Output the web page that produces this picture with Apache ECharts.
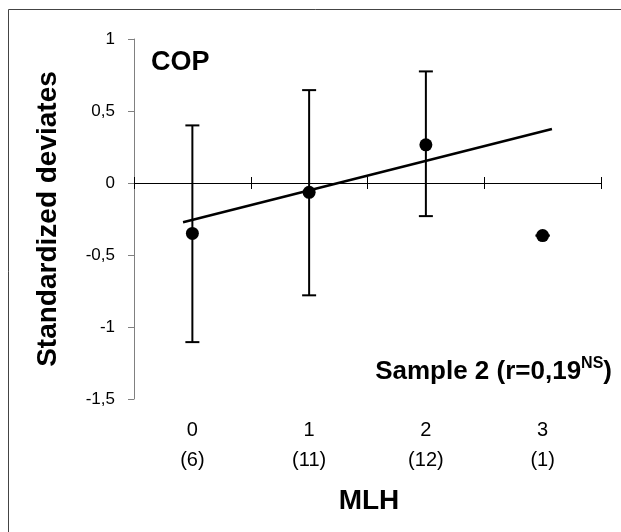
<!DOCTYPE html>
<html>
<head>
<meta charset="utf-8">
<script src="https://cdn.jsdelivr.net/npm/echarts@6/dist/echarts.min.js"></script>
<style>
  html, body { margin: 0; padding: 0; background: #fff; }
  #chart { width: 621px; height: 532px; }
</style>
</head>
<body>
<div id="chart"></div>
<script>
// MLH classes and group sizes
const categories = ['0', '1', '2', '3']
const groupSizes = ['(6)', '(11)', '(12)', '(1)']
// standardized deviates: mean and error bar ends
const means = [-0.35, -0.065, 0.265, -0.365]
const upper = [0.40, 0.645, 0.775, -0.365]
const lower = [-1.105, -0.78, -0.23, -0.365]
// regression line ends [x position in category units, value]
const trend = [[-0.08, -0.273], [3.08, 0.375]]
const yTicks = { min: -1.5, max: 1, interval: 0.5 }

const FONT = "'Liberation Sans', Arial, sans-serif"

const chart = echarts.init(document.getElementById('chart'), null, { renderer: 'canvas' })

chart.setOption({
  animation: false,
  backgroundColor: '#fff',
  grid: { left: 134, top: 39, right: 20, bottom: 133 },
  xAxis: [
    {
      type: 'category',
      data: categories,
      boundaryGap: true,
      position: 'bottom',
      axisLine: { onZero: true, onZeroAxisIndex: 0, lineStyle: { color: '#000', width: 1 } },
      axisTick: { show: true, length: 6, interval: 0, lineStyle: { color: '#000' } },
      axisLabel: { show: false },
      splitLine: { show: false }
    },
    {
      // same line, ticks pointing up so they cross the zero line
      type: 'category',
      data: categories,
      boundaryGap: true,
      position: 'bottom',
      axisLine: { show: true, onZero: true, onZeroAxisIndex: 0, lineStyle: { color: '#000', width: 1 } },
      axisTick: { show: true, inside: true, length: 6, interval: 0, lineStyle: { color: '#000' } },
      axisLabel: { show: false }
    },
    {
      type: 'category',
      data: categories,
      boundaryGap: true,
      position: 'bottom',
      axisLine: { show: false, onZero: false },
      axisTick: { show: false },
      axisLabel: {
        margin: 16,
        fontFamily: FONT,
        fontSize: 20,
        lineHeight: 30,
        color: '#000',
        formatter: (v, i) => v + '\n' + groupSizes[i]
      }
    },
    { type: 'value', min: -0.5, max: 3.5, show: false, position: 'bottom' }
  ],
  yAxis: {
    type: 'value',
    min: yTicks.min,
    max: yTicks.max,
    interval: yTicks.interval,
    position: 'left',
    axisLine: { show: true, onZero: false, lineStyle: { color: '#808080', width: 1 } },
    axisTick: { show: true, length: 6, lineStyle: { color: '#808080' } },
    splitLine: { show: false },
    axisLabel: {
      margin: 19,
      fontFamily: FONT,
      fontSize: 17,
      color: '#000',
      formatter: v => String(v).replace('.', ',')
    }
  },
  series: [
    {
      type: 'custom',
      xAxisIndex: 0,
      data: categories.map((c, i) => [i, lower[i], upper[i]]),
      renderItem: (params, api) => {
        const lo = api.coord([api.value(0), api.value(1)])
        const hi = api.coord([api.value(0), api.value(2)])
        const w = 7
        const style = { stroke: '#000', lineWidth: 2 }
        return {
          type: 'group',
          children: [
            { type: 'line', shape: { x1: hi[0], y1: hi[1], x2: lo[0], y2: lo[1] }, style },
            { type: 'line', shape: { x1: hi[0] - w, y1: hi[1], x2: hi[0] + w, y2: hi[1] }, style },
            { type: 'line', shape: { x1: lo[0] - w, y1: lo[1], x2: lo[0] + w, y2: lo[1] }, style }
          ]
        }
      },
      z: 2
    },
    {
      type: 'line',
      xAxisIndex: 3,
      data: trend,
      symbol: 'none',
      lineStyle: { color: '#000', width: 2.5 },
      z: 3
    },
    {
      type: 'scatter',
      xAxisIndex: 0,
      data: means,
      symbol: 'circle',
      symbolSize: 13,
      itemStyle: { color: '#000', opacity: 1 },
      z: 4
    }
  ],
  graphic: [
    {
      type: 'rect',
      shape: { x: 8.5, y: 9.5, width: 700, height: 600 },
      style: { fill: 'none', stroke: '#444', lineWidth: 1 },
      silent: true
    },
    {
      type: 'text',
      style: { x: 151, y: 63, text: 'COP', font: 'bold 27px ' + FONT, fill: '#000', textAlign: 'left', textVerticalAlign: 'middle' }
    },
    {
      type: 'text',
      style: {
        x: 612,
        y: 372,
        text: '{a|Sample 2 (r=0,19}{s|NS}{a|)}',
        textAlign: 'right',
        textVerticalAlign: 'middle',
        rich: {
          a: { fontFamily: FONT, fontWeight: 'bold', fontSize: 26, lineHeight: 32, fill: '#000' },
          s: { fontFamily: FONT, fontWeight: 'bold', fontSize: 16, lineHeight: 32, verticalAlign: 'top', fill: '#000' }
        }
      }
    },
    {
      type: 'text',
      rotation: Math.PI / 2,
      x: 48,
      y: 219,
      style: { x: 0, y: 0, text: 'Standardized deviates', font: 'bold 28px ' + FONT, fill: '#000', textAlign: 'center', textVerticalAlign: 'middle' }
    },
    {
      type: 'text',
      style: { x: 369, y: 501, text: 'MLH', font: 'bold 28px ' + FONT, fill: '#000', textAlign: 'center', textVerticalAlign: 'middle' }
    }
  ]
})
</script>
</body>
</html>
